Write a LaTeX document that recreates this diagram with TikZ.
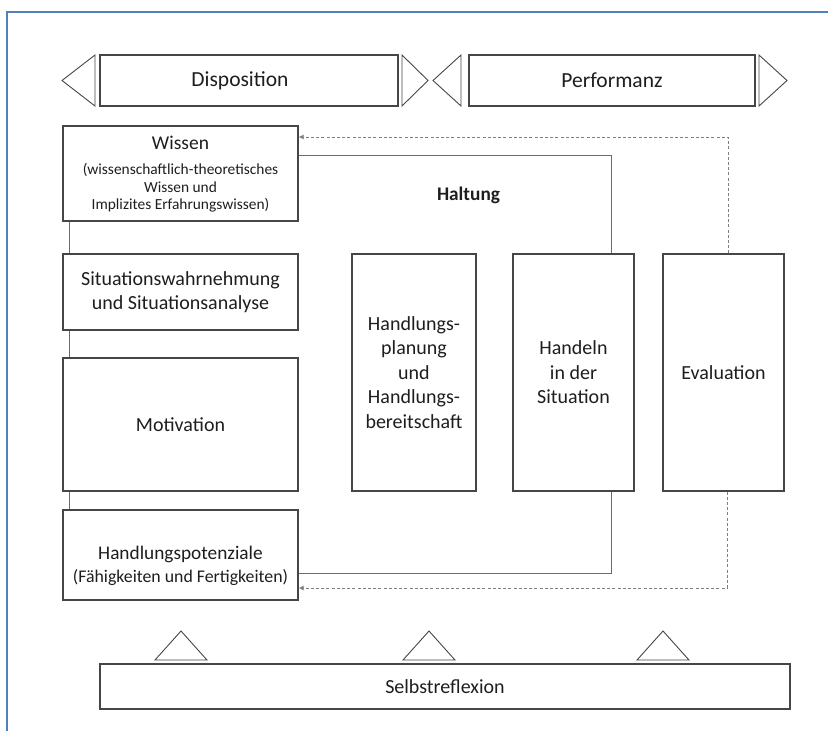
\documentclass[tikz,border=0pt]{standalone}
\usepackage{fontspec}
\setmainfont{Carlito}
\usetikzlibrary{arrows.meta}
\definecolor{frameblue}{RGB}{79,129,189}
\definecolor{boxline}{RGB}{70,70,70}
\definecolor{txt}{RGB}{30,30,30}
\tikzset{
  box/.style={draw=boxline, line width=1.1pt, fill=white, align=center, inner sep=0pt, text=txt, font=\fontsize{20}{23.5}\selectfont},
  lbl/.style={align=center, text=txt, inner sep=0pt},
  tri/.style={draw=boxline, line width=0.9pt, fill=white, line join=miter},
  conn/.style={draw=boxline!80, line width=1pt},
  dconn/.style={draw=boxline!70, line width=1pt, dash pattern=on 3pt off 2.2pt, -{Latex[length=5pt,width=5pt]}},
}
\begin{document}
\begin{tikzpicture}[x=1pt,y=-1pt]
\useasboundingbox (0,0) rectangle (828,731);
% frame
\draw[frameblue, line width=2pt] (7,731) -- (7,12) -- (828,12);

% top bars
\node[box, minimum width=298pt, minimum height=51pt] (disp) at (249,80.5) {};
\node[lbl, font=\fontsize{21.5}{24}\selectfont] (disptxt) at (240,80.5) {Disposition};
\node[box, minimum width=286pt, minimum height=51pt, font=\fontsize{21.5}{24}\selectfont] (perf) at (612,80.5) {Performanz};
\draw[tri] (95,55) -- (95,106) -- (62,80.5) -- cycle;
\draw[tri] (402,55) -- (402,106) -- (428,80.5) -- cycle;
\draw[tri] (461,55) -- (461,106) -- (433,80.5) -- cycle;
\draw[tri] (759,55) -- (759,106) -- (787,80.5) -- cycle;

% left column
\node[box, minimum width=235pt, minimum height=95pt] (wissen) at (180.5,173.5) {};
\node[lbl, font=\fontsize{15.4}{17.5}\selectfont] (wissentxt) at (180.5,174)
  {{\fontsize{19.5}{21}\selectfont Wissen}\\[8pt](wissenschaftlich-theoretisches\\Wissen und\\Implizites Erfahrungswissen)};
\node[box, minimum width=235pt, minimum height=76pt] (sit) at (180.5,292)
  {Situationswahrnehmung\\und Situationsanalyse};
\node[box, minimum width=235pt, minimum height=133pt] (mot) at (180.5,424.5) {Motivation};
\node[box, minimum width=235pt, minimum height=90pt] (hpot) at (180.5,555) {};
\node[lbl, font=\fontsize{19.3}{22}\selectfont] (hpottxt) at (180.5,566)
  {Handlungspotenziale\\[1pt]{\fontsize{17.8}{20}\selectfont (Fähigkeiten und Fertigkeiten)}};

% right columns
\node[box, minimum width=124pt, minimum height=237pt, font=\fontsize{20}{24.5}\selectfont] (plan) at (414,372.5)
  {Handlungs-\\planung\\und\\Handlungs-\\bereitschaft};
\node[box, minimum width=121pt, minimum height=237pt, font=\fontsize{20}{24.5}\selectfont] (handeln) at (573.5,372.5)
  {Handeln\\in der\\Situation};
\node[box, minimum width=121pt, minimum height=237pt] (eval) at (723.5,372.5) {Evaluation};

\node[font=\bfseries\fontsize{19.3}{21}\selectfont, text=txt] (haltung) at (468.5,195) {Haltung};

% left column links
\draw[conn] ([xshift=7pt]wissen.south west) -- ([xshift=7pt]sit.north west);
\draw[conn] ([xshift=7pt]sit.south west) -- ([xshift=7pt]mot.north west);
\draw[conn] ([xshift=7pt]mot.south west) -- ([xshift=7pt]hpot.north west);

% loops
\draw[conn] ([yshift=18.5pt]wissen.east) -| ([xshift=37.5pt]handeln.north);
\draw[conn] ([xshift=37.5pt]handeln.south) |- ([yshift=-18pt]hpot.east);
\draw[dconn] ([xshift=4.5pt]eval.north) |- ([yshift=36.5pt]wissen.east);
\draw[dconn] ([xshift=3.5pt]eval.south) |- ([yshift=-33pt]hpot.east);

% bottom
\node[box, minimum width=690pt, minimum height=45pt] (selbst) at (445,686.5) {Selbstreflexion};
\draw[tri] (155,660) -- (181,631) -- (207,660) -- cycle;
\draw[tri] (403,660) -- (429,631) -- (455,660) -- cycle;
\draw[tri] (637,660) -- (663,631) -- (689,660) -- cycle;
\end{tikzpicture}
\end{document}
